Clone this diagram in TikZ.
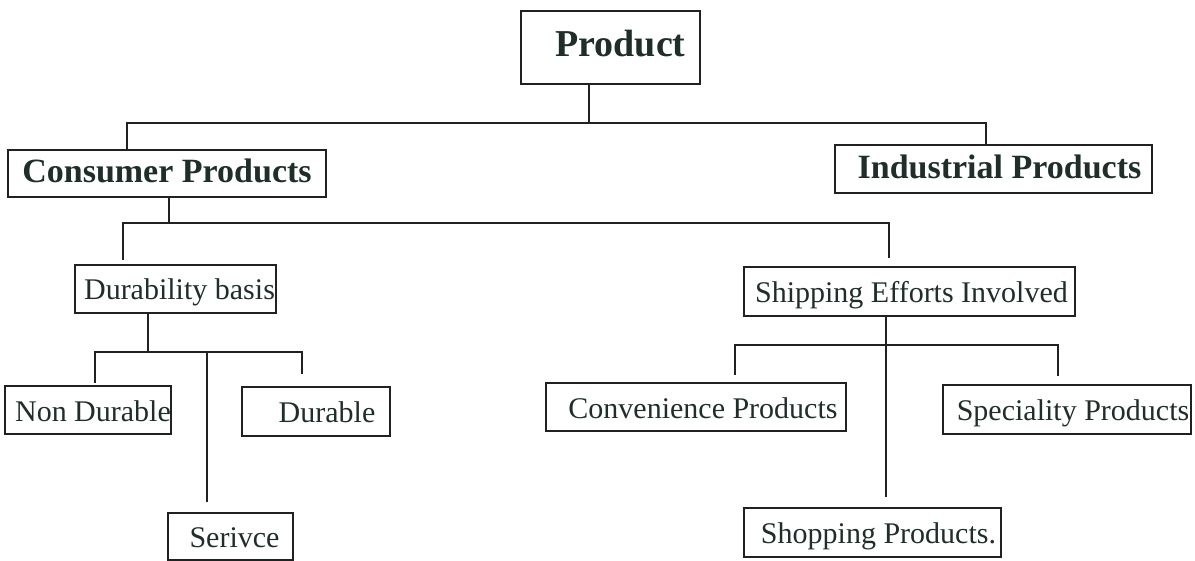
\documentclass[tikz,border=0pt]{standalone}
\usepackage{fontspec}
\setmainfont{Liberation Serif}
\definecolor{LineClr}{rgb}{0.13,0.13,0.13}
\definecolor{TextClr}{rgb}{0.12,0.18,0.16}

\begin{document}
\begin{tikzpicture}[x=1pt,y=-1pt,
  box/.style={draw=LineClr,line width=2.6pt,inner sep=0pt,text=TextClr,
    text height=24pt,text depth=2pt,font=\fontsize{30}{36}\selectfont},
  bigbox/.style={box,text height=21pt,font=\bfseries\fontsize{34}{40}\selectfont},
  push/.style={execute at begin node={\hspace*{#1}}},
  link/.style={draw=LineClr,line width=2.6pt}]
\useasboundingbox (0,0) rectangle (1195,561);

% boxes
\node[bigbox,push=20pt,font=\bfseries\fontsize{38}{44}\selectfont,
  minimum width=179pt,minimum height=73pt] (prod) at (610.5,47.5) {Product};
\node[bigbox,minimum width=318pt,minimum height=47pt] (cons) at (167,173.5) {Consumer Products};
\node[bigbox,push=12pt,minimum width=317pt,minimum height=48pt] (ind) at (993.5,169) {Industrial Products};

\node[box,push=8pt,minimum width=201pt,minimum height=48pt] (dur) at (175.5,289) {Durability basis};
\node[box,push=4pt,minimum width=331pt,minimum height=49pt] (ship) at (909.5,291.5) {Shipping Efforts Involved};

\node[box,push=10pt,minimum width=164pt,minimum height=48pt] (nondur) at (88,410) {Non Durable};
\node[box,push=22pt,minimum width=148pt,minimum height=49pt] (durable) at (316,411.5) {Durable};
\node[box,push=8pt,minimum width=125pt,minimum height=47pt] (serv) at (230.5,536.5) {Serivce};

\node[box,push=14pt,minimum width=300pt,minimum height=48pt] (conv) at (696,407) {Convenience Products};
\node[box,push=12pt,minimum width=248pt,minimum height=49pt] (spec) at (1067,409.5) {Speciality Products};
\node[box,push=12pt,minimum width=257pt,minimum height=49pt] (shop) at (872.5,532.5) {Shopping Products.};

% junctions
\coordinate (jP) at (589,123);
\coordinate (jPL) at (127,123);
\coordinate (jPR) at (986,123);
\coordinate (jC) at (169,223);
\coordinate (jCL) at (123,223);
\coordinate (jCR) at (889,223);
\coordinate (jD) at (148,352);
\coordinate (jDL) at (95,352);
\coordinate (jDM) at (207,352);
\coordinate (jDR) at (302,352);
\coordinate (jSL) at (735,345);
\coordinate (jSR) at (1058,345);
\coordinate (jS) at (886,345);

% connectors
\draw[link] (prod.south -| jP) -- (jP);
\draw[link] (cons.north -| jPL) -- (jPL) -- (jPR) -- (ind.north -| jPR);

\draw[link] (cons.south -| jC) -- (jC);
\draw[link,shorten <=4pt,shorten >=8pt] (dur.north -| jCL) -- (jCL) -- (jCR) -- (ship.north -| jCR);

\draw[link] (dur.south -| jD) -- (jD);
\draw[link,shorten <=2pt,shorten >=12pt] (nondur.north -| jDL) -- (jDL) -- (jDR) -- (durable.north -| jDR);
\draw[link,shorten >=10pt] (jDM) -- (serv.north -| jDM);

\draw[link,shorten <=7pt,shorten >=8pt] (conv.north -| jSL) -- (jSL) -- (jSR) -- (spec.north -| jSR);
\draw[link,shorten >=10pt] (ship.south -| jS) -- (shop.north -| jS);

\end{tikzpicture}
\end{document}
